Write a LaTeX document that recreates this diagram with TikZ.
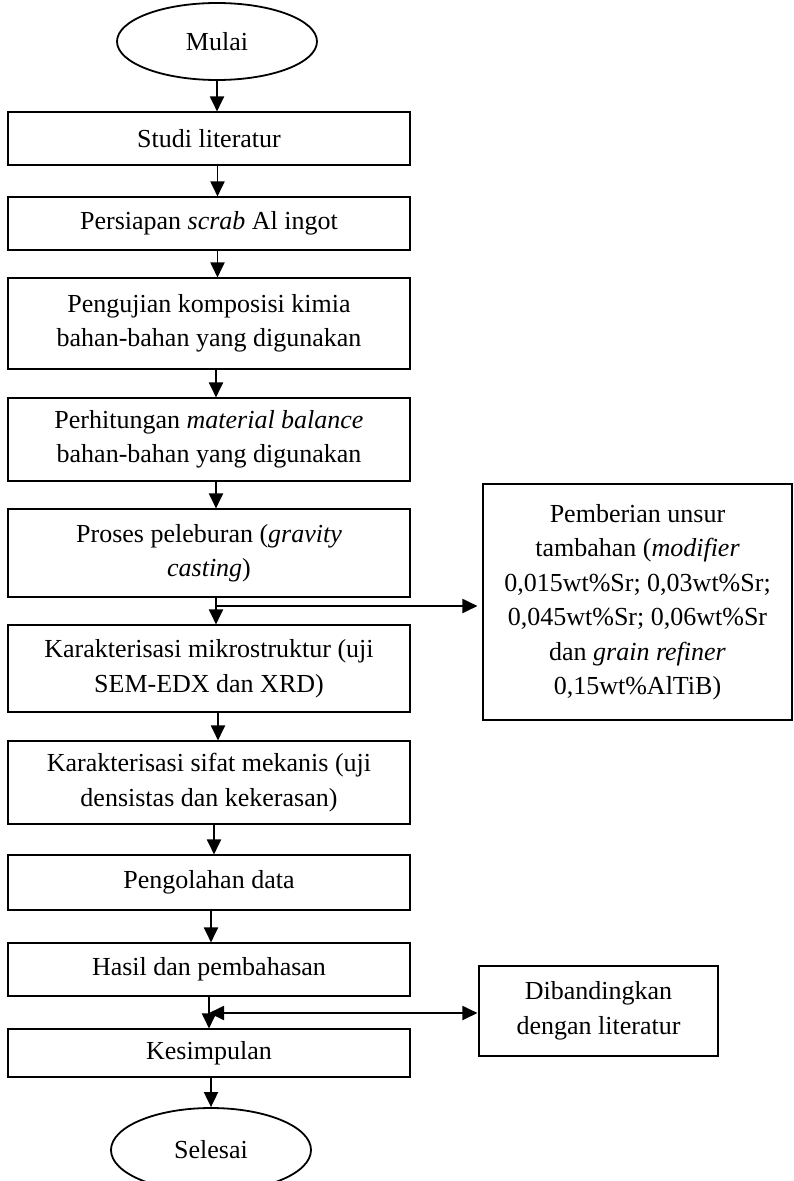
\documentclass[tikz,border=0pt]{standalone}
\usepackage{fontspec}
\setmainfont{Liberation Serif}
\usetikzlibrary{arrows.meta,shapes.geometric}
\tikzset{
  txt/.style={font=\fontsize{26}{34.5}\selectfont, align=center, inner sep=0pt},
  box/.style={txt, draw, line width=1.1pt, minimum width=402pt},
  sidebox/.style={txt, draw, line width=1.1pt},
  term/.style={txt, draw, ellipse, line width=1.8pt, minimum width=200pt},
  arr/.style={line width=1.9pt, -{Triangle[length=15pt,width=14pt]}},
  arrtwo/.style={line width=1.9pt, {Triangle[length=15pt,width=14pt]}-{Triangle[length=15pt,width=14pt]}}
}
\begin{document}
\begin{tikzpicture}[x=1pt,y=-1pt]
\useasboundingbox (0,0) rectangle (793,1181);
\clip (0,0) rectangle (793,1181);
\node[term, minimum height=77pt] (m) at (217,41.5) {Mulai};
\node[box, minimum height=53pt] (b1) at (209,138.5) {Studi literatur};
\node[box, minimum height=53pt] (b2) at (209,223.5) {Persiapan \textit{scrab} Al ingot};
\node[box, minimum height=91pt] (b3) at (209,323.5) {Pengujian komposisi kimia\\bahan-bahan yang digunakan};
\node[box, minimum height=83pt] (b4) at (209,439.5) {Perhitungan \textit{material balance}\\bahan-bahan yang digunakan};
\node[box, minimum height=88pt] (b5) at (209,553) {Proses peleburan (\textit{gravity}\\\textit{casting})};
\node[box, minimum height=87pt] (b6) at (209,668.5) {Karakterisasi mikrostruktur (uji\\SEM-EDX dan XRD)};
\node[box, minimum height=83pt] (b7) at (209,782.5) {Karakterisasi sifat mekanis (uji\\densistas dan kekerasan)};
\node[box, minimum height=55pt] (b8) at (209,882.5) {Pengolahan data};
\node[box, minimum height=53pt] (b9) at (209,969.5) {Hasil dan pembahasan};
\node[box, minimum height=48pt] (b10) at (209,1053) {Kesimpulan};
\node[term, minimum height=84pt] (s) at (211,1150) {Selesai};
\node[sidebox, minimum width=309pt, minimum height=236pt] (r1) at (637.5,602) {Pemberian unsur\\tambahan (\textit{modifier}\\0,015wt\%Sr; 0,03wt\%Sr;\\0,045wt\%Sr; 0,06wt\%Sr\\dan \textit{grain refiner}\\0,15wt\%AlTiB)};
\node[sidebox, minimum width=239pt, minimum height=90pt] (r2) at (598.5,1011) {Dibandingkan\\dengan literatur};
\coordinate (j1) at (216,606);
\coordinate (j2) at (209,1013);
\draw[arr] (m.south) -- (m.south |- b1.north);
\draw[arr] ([xshift=8.5pt]b1.south) -- ([xshift=8.5pt]b2.north);
\draw[arr] ([xshift=8.5pt]b2.south) -- ([xshift=8.5pt]b3.north);
\draw[arr] ([xshift=7pt]b3.south) -- ([xshift=7pt]b4.north);
\draw[arr] ([xshift=7pt]b4.south) -- ([xshift=7pt]b5.north);
\draw[arr] ([xshift=7pt]b5.south) -- ([xshift=7pt]b6.north);
\draw[arr] ([xshift=9pt]b6.south) -- ([xshift=9pt]b7.north);
\draw[arr] ([xshift=5pt]b7.south) -- ([xshift=5pt]b8.north);
\draw[arr] ([xshift=2pt]b8.south) -- ([xshift=2pt]b9.north);
\draw[arr] (b9.south) -- (b10.north);
\draw[arr] (b10.south -| s.north) -- (s.north);
\draw[arr, shorten >=5pt] (j1) -- (j1 -| r1.west);
\draw[arrtwo, shorten >=1pt] (j2) -- (j2 -| r2.west);
\end{tikzpicture}
\end{document}
